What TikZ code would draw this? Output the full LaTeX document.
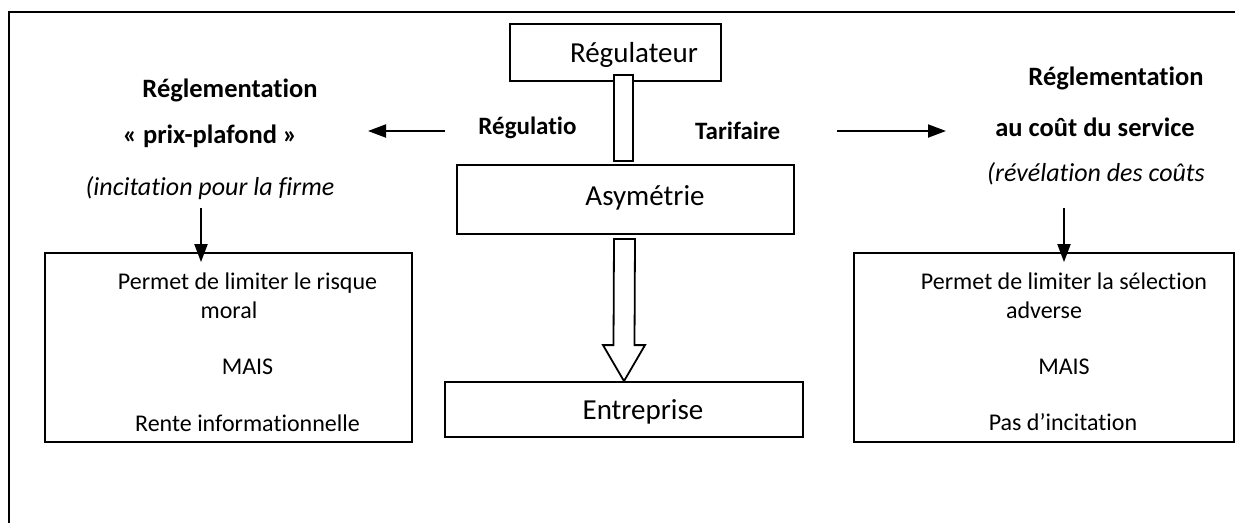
\documentclass[tikz,border=0pt]{standalone}
\usepackage{fontspec}
\setmainfont[Ligatures=NoCommon]{Carlito}
\usetikzlibrary{arrows.meta,calc}
\begin{document}
\begin{tikzpicture}[x=1pt,y=-1pt,
  frame/.style={line width=2pt},
  box/.style={draw,line width=1.8pt,fill=white,inner sep=0pt},
  txt/.style={inner sep=0pt,font=\fontsize{24}{28}\selectfont},
  bigtxt/.style={inner sep=0pt,font=\fontsize{29}{34}\selectfont},
  head/.style={inner sep=0pt,font=\fontsize{26.5}{30}\selectfont\bfseries},
  lab/.style={inner sep=0pt,font=\fontsize{25}{30}\selectfont\bfseries},
  note/.style={inner sep=0pt,font=\fontsize{26}{30}\selectfont\itshape},
  arr/.style={line width=2pt,-{Triangle[length=18pt,width=13pt]}},
  hollow/.style={draw,line width=1.8pt,fill=white,line join=miter}]
\useasboundingbox (0,0) rectangle (1235,523);

% open outer frame (top and left sides only)
\draw[frame] (1235,12) -- (9,12) -- (9,523);

% central chain
\node[box,minimum width=211,minimum height=57] (reg) at (615.5,52.5) {};
\node[bigtxt] (regt) at (634,55) {Régulateur};
\node[box,minimum width=19,minimum height=86] (link) at (623.5,118) {};
\node[box,minimum width=337,minimum height=69] (asym) at (625.5,199.5) {};
\node[bigtxt] (asymt) at (645,198) {Asymétrie};
\node[box,minimum width=358,minimum height=55] (entr) at (624,409.5) {};
\node[bigtxt] (entrt) at (643,412) {Entreprise};

% hollow block arrow from Asymétrie down to Entreprise
\coordinate (btop) at ($(asym.south)+(-1,4)$);
\coordinate (btip) at (entr.north);
\draw[hollow] ($(btop)+(-10.5,0)$) -- ($(btip)+(-10.5,-36)$) -- ($(btip)+(-21,-36)$)
  -- (btip) -- ($(btip)+(21,-36)$) -- ($(btip)+(10.5,-36)$) -- ($(btop)+(10.5,0)$) -- cycle;

% middle labels
\node[lab] (regl) at (527.5,127.5) {Régulatio};
\node[lab] (tarif) at (737.7,130.5) {Tarifaire};

% left branch
\node[head] (lh1) at (230,90) {Réglementation};
\node[head] (lh2) at (210,136) {« prix-plafond »};
\node[note] (lh3) at (210,188) {(incitation pour la firme};
\node[box,minimum width=367,minimum height=189] (lbox) at (228.5,347.5) {};
\node[txt] (l1) at (247.5,283) {Permet de limiter le risque};
\node[txt] (l2) at (229,310.5) {moral};
\node[txt] (l3) at (247.5,366.5) {MAIS};
\node[txt] (l4) at (247.5,423) {Rente informationnelle};

% right branch
\node[head] (rh1) at (1116,78) {Réglementation};
\node[head] (rh2) at (1095,127.7) {au coût du service};
\node[note] (rh3) at (1096,173.5) {(révélation des coûts};
\node[box,minimum width=380,minimum height=189] (rbox) at (1044,347.5) {};
\node[txt] (r1) at (1064,281.5) {Permet de limiter la sélection};
\node[txt] (r2) at (1044,310) {adverse};
\node[txt] (r3) at (1064,366.5) {MAIS};
\node[txt] (r4) at (1063,422) {Pas d’incitation};

% horizontal arrows
\coordinate (la) at (445,131);
\coordinate (lb) at (368,131);
\coordinate (ra) at (837,131);
\coordinate (rb) at (946,131);
\draw[arr] (la) -- (lb);
\draw[arr] (ra) -- (rb);

% vertical arrows into the boxes
\coordinate (ld) at (201,208);
\coordinate (rd) at (1064,208);
\draw[arr,shorten >=-10pt] (ld) -- (ld |- lbox.north);
\draw[arr,shorten >=-10pt] (rd) -- (rd |- rbox.north);
\end{tikzpicture}
\end{document}
